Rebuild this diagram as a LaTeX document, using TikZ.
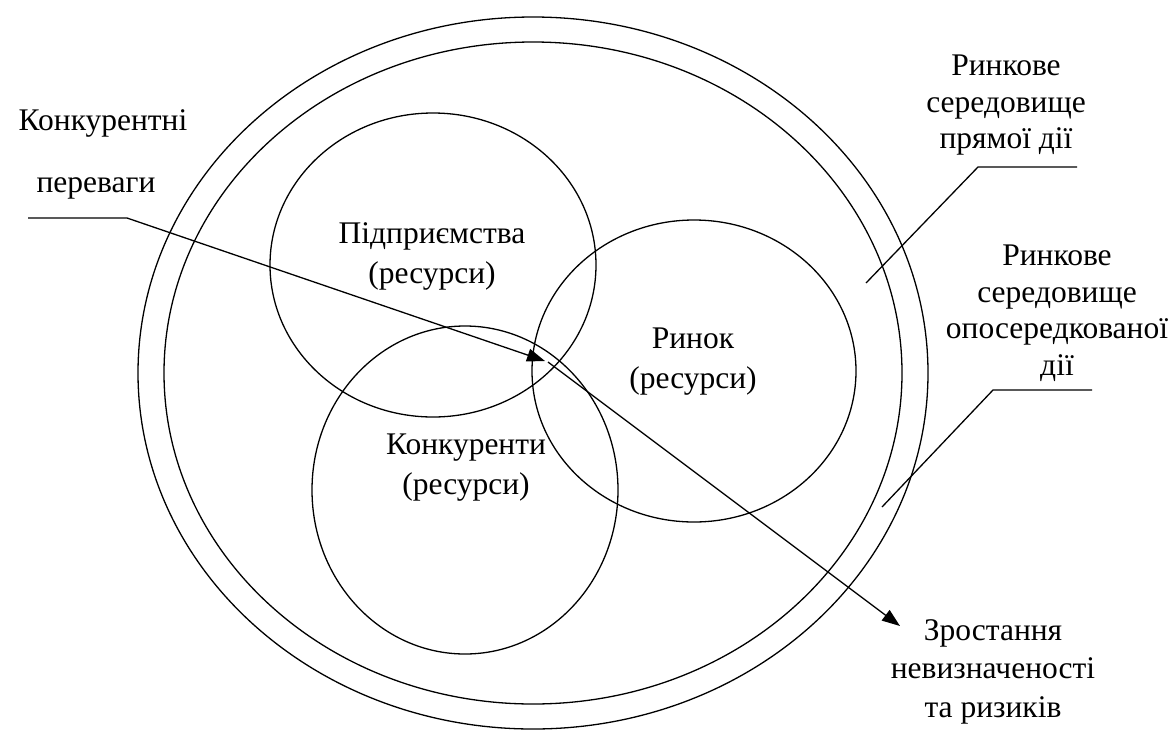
\documentclass[tikz,border=0pt]{standalone}
\usepackage{fontspec}
\setmainfont{Liberation Serif}
\newfontfamily\tnr{Liberation Serif}
\usetikzlibrary{shapes.geometric,arrows.meta}
\begin{document}
\begin{tikzpicture}[x=1pt,y=-1pt,line width=1.3pt,
  ring/.style={draw,ellipse,inner sep=0pt},
  lbl/.style={anchor=base,inner sep=0pt,font=\tnr\fontsize{31.5}{37}\selectfont},
  arr/.style={-{Triangle[length=18pt,width=13pt]},line width=1.3pt},
  leader/.style={line width=1.3pt}]
\useasboundingbox (0,0) rectangle (1173,729);
% rings
\node[ring,minimum width=790pt,minimum height=712pt] (outer) at (533,373) {};
\node[ring,minimum width=738pt,minimum height=662pt] (inner) at (533,373) {};
\node[ring,minimum width=326pt,minimum height=304pt] (pid) at (433,265) {};
\node[ring,minimum width=324pt,minimum height=302pt] (market) at (694,371) {};
\node[ring,minimum width=306pt,minimum height=328pt] (comp) at (465,490) {};
% inner labels
\node[lbl] (pidA) at (432,243) {Підприємства};
\node[lbl] (pidB) at (432,283) {(ресурси)};
\node[lbl] (marA) at (693,348) {Ринок};
\node[lbl] (marB) at (693,388) {(ресурси)};
\node[lbl] (comA) at (466,454) {Конкуренти};
\node[lbl] (comB) at (466,494) {(ресурси)};
% left label
\node[lbl] (advA) at (103,130) {Конкурентні};
\node[lbl] (advB) at (96,192) {переваги};
% right labels
\node[lbl] (dirA) at (1006,75) {Ринкове};
\node[lbl] (dirB) at (1006,112) {середовище};
\node[lbl] (dirC) at (1006,148) {прямої дії};
\node[lbl] (indA) at (1057,265) {Ринкове};
\node[lbl] (indB) at (1057,302) {середовище};
\node[lbl] (indC) at (1057,338) {опосередкованої};
\node[lbl] (indD) at (1057,375) {дії};
\node[lbl] (rskA) at (993,640) {Зростання};
\node[lbl] (rskB) at (993,678) {невизначеності};
\node[lbl] (rskC) at (993,717) {та ризиків};
% arrows
\coordinate (a1s) at (28,218);
\coordinate (a1k) at (127,218);
\coordinate (a1t) at (545,361);
\coordinate (a2s) at (548,362);
\coordinate (a2t) at (900,626);
\draw[arr] (a1s) -- (a1k) -- (a1t);
\draw[arr] (a2s) -- (a2t);
% leaders
\coordinate (l1s) at (1077,167);
\coordinate (l1k) at (978,167);
\coordinate (l1e) at (866,283);
\coordinate (l2s) at (1092,390);
\coordinate (l2k) at (993,390);
\coordinate (l2e) at (882,507);
\draw[leader] (l1s) -- (l1k) -- (l1e);
\draw[leader] (l2s) -- (l2k) -- (l2e);
\end{tikzpicture}
\end{document}
